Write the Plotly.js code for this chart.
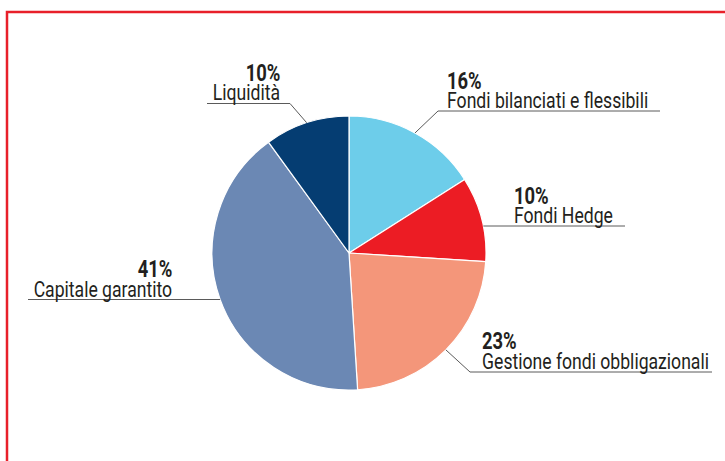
<!DOCTYPE html>
<html>
<head>
<meta charset="utf-8">
<script src="https://cdn.plot.ly/plotly-3.0.1.min.js"></script>
<style>html,body{margin:0;padding:0;background:#fff;}#chart{width:725px;height:461px;}</style>
</head>
<body>
<div id="chart"></div>
<script>
// ---- data ----
var categories = ["Fondi bilanciati e flessibili", "Fondi Hedge", "Gestione fondi obbligazionali", "Capitale garantito", "Liquidità"];
var shares = [16, 10, 23, 41, 10];
var pctLabels = ["16%", "10%", "23%", "41%", "10%"];
var sliceColors = ["#6DCDEA", "#EC1C24", "#F4967A", "#6B88B4", "#053D72"];

// ---- layout (pixels) ----
var W = 725, H = 461;
var CX = 349, CY = 253, R = 137;
// label placement: side, text x, underline y, elbow x (null = horizontal from pie edge), line end x
var labelSide   = ["left", "left", "left", "right", "right"];
var labelTextX  = [445, 512, 480, 174, 282];
var underlineY  = [111, 226, 372, 299.5, 103.5];
var elbowX      = [438, null, 470, null, 290];
var lineEndX    = [660, 625, 712, 28, 207];
var CONDENSE = 0.80; // horizontal squeeze to mimic the condensed typeface

var FONT = "Roboto, 'Liberation Sans', sans-serif";
function px(x){ return x / W; }
function py(y){ return (H - y) / H; }

var total = shares.reduce(function(a,b){return a+b;}, 0);
var annotations = [], shapes = [], anchors = [];
var cum = 0;
for (var i = 0; i < shares.length; i++) {
  var mid = (cum + shares[i] / 2) / total * 2 * Math.PI; // clockwise from 12 o'clock
  cum += shares[i];
  var uy = underlineY[i];
  var sx, sy, path;
  if (elbowX[i] === null) {
    var dy = uy - CY;
    var dx = Math.sqrt(Math.max(R*R - dy*dy, 0));
    sx = CX + (labelSide[i] === "left" ? dx : -dx);
    sy = uy;
    path = "M " + px(sx) + " " + py(sy) + " L " + px(lineEndX[i]) + " " + py(uy);
  } else {
    sx = CX + R * Math.sin(mid);
    sy = CY - R * Math.cos(mid);
    path = "M " + px(sx) + " " + py(sy) + " L " + px(elbowX[i]) + " " + py(uy) + " L " + px(lineEndX[i]) + " " + py(uy);
  }
  shapes.push({type: "path", xref: "paper", yref: "paper", path: path,
               line: {color: "#5a5a5a", width: 1}});
  annotations.push({xref: "paper", yref: "paper", x: px(labelTextX[i]), y: py(uy - 30),
    xanchor: labelSide[i], yanchor: "middle", showarrow: false,
    text: "<b>" + pctLabels[i] + "</b>", font: {family: FONT, size: 23, color: "#231F20"}});
  anchors.push({x: labelTextX[i], side: labelSide[i]});
  annotations.push({xref: "paper", yref: "paper", x: px(labelTextX[i]), y: py(uy - 10.5),
    xanchor: labelSide[i], yanchor: "middle", showarrow: false,
    text: categories[i], font: {family: FONT, size: 22, color: "#231F20"}});
  anchors.push({x: labelTextX[i], side: labelSide[i]});
}

// red frame
shapes.push({type: "rect", xref: "paper", yref: "paper",
  x0: px(7), x1: px(760), y0: py(500), y1: py(12),
  line: {color: "#E8202A", width: 2.5}, fillcolor: "rgba(0,0,0,0)"});

var trace = {
  type: "pie",
  labels: categories,
  values: shares,
  sort: false,
  direction: "clockwise",
  rotation: 0,
  textinfo: "none",
  hoverinfo: "label+percent",
  marker: {colors: sliceColors, line: {color: "#ffffff", width: 1.2}},
  domain: {x: [px(CX - R), px(CX + R)], y: [py(CY + R), py(CY - R)]},
  showlegend: false
};

Plotly.newPlot("chart", [trace], {
  width: W, height: H,
  margin: {l: 0, r: 0, t: 0, b: 0},
  paper_bgcolor: "#ffffff",
  showlegend: false,
  annotations: annotations,
  shapes: shapes
}, {displayModeBar: false, staticPlot: true}).then(function(gd){
  // squeeze annotation text horizontally around its anchored edge
  var groups = gd.querySelectorAll("g.annotation");
  groups.forEach(function(g, k){
    var t = g.querySelector("text.annotation-text");
    if (!t || !anchors[k]) return;
    var bb = t.getBBox();
    var ax = anchors[k].side === "left" ? bb.x : bb.x + bb.width;
    t.setAttribute("transform", "translate(" + ax + ",0) scale(" + CONDENSE + ",1) translate(" + (-ax) + ",0)");
  });
});
</script>
</body>
</html>
